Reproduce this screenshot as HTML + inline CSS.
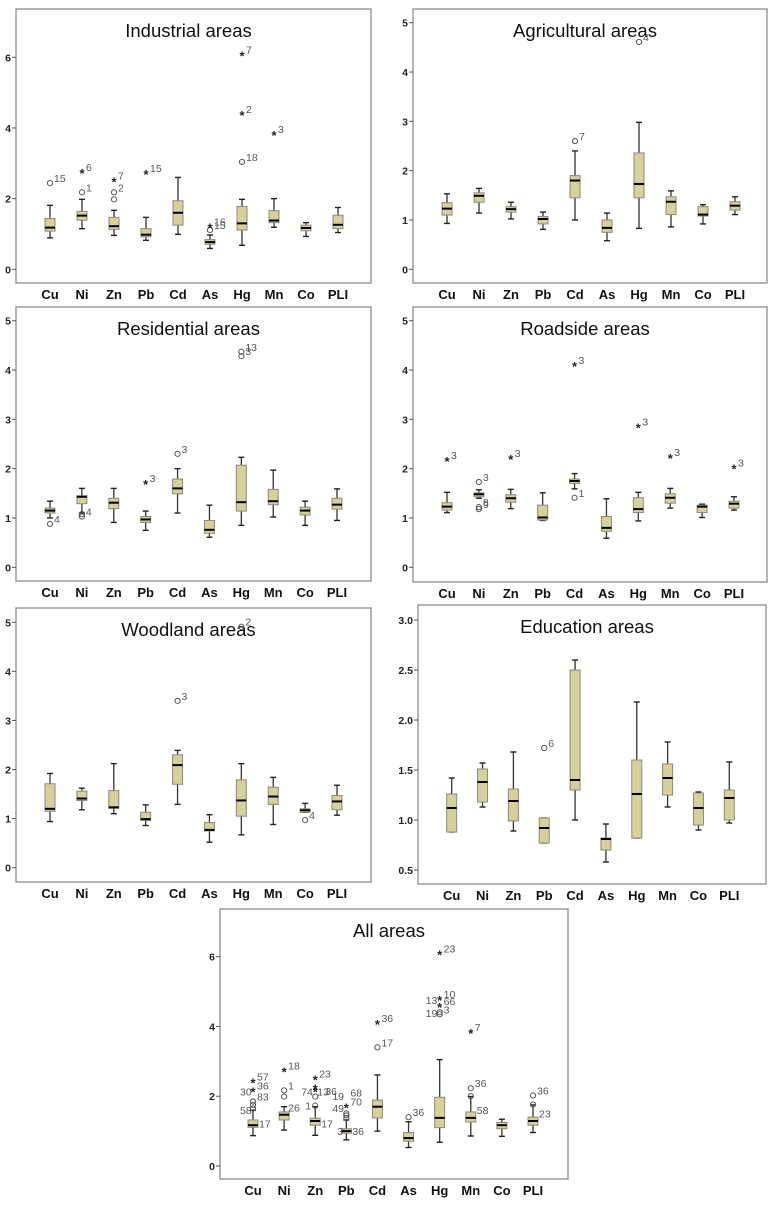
<!DOCTYPE html>
<html><head><meta charset="utf-8">
<style>
html,body{margin:0;padding:0;background:#fff;}
svg{display:block;font-family:"Liberation Sans",Arial,sans-serif;}
</style></head>
<body>
<svg id="fig" width="776" height="1205" viewBox="0 0 776 1205" xmlns="http://www.w3.org/2000/svg"></svg>
<script>
const categories = ["Cu","Ni","Zn","Pb","Cd","As","Hg","Mn","Co","PLI"];

// [lowerWhisker, q1, median, q3, upperWhisker]
const industrialStats = [[0.89,1.08,1.18,1.44,1.81],[1.15,1.39,1.52,1.64,1.98],[0.96,1.13,1.22,1.47,1.67],[0.82,0.92,0.98,1.15,1.47],[0.99,1.25,1.6,1.94,2.6],[0.59,0.71,0.77,0.84,0.97],[0.68,1.11,1.3,1.78,1.98],[1.19,1.32,1.38,1.66,2.0],[0.93,1.09,1.17,1.25,1.32],[1.04,1.15,1.26,1.53,1.75]];
// [categoryIndex, value, marker, label]
const industrialOutliers = [[0,2.44,"o","15"],[1,2.18,"o","1"],[1,2.75,"*","6"],[2,1.98,"o",""],[2,2.18,"o","2"],[2,2.52,"*","7"],[3,2.72,"*","15"],[5,1.11,"o","15"],[5,1.21,"*","16"],[6,3.04,"o","18"],[6,4.39,"*","2"],[6,6.08,"*","7"],[7,3.83,"*","3"]];

const agriculturalStats = [[0.93,1.1,1.23,1.35,1.53],[1.14,1.36,1.49,1.55,1.64],[1.02,1.16,1.22,1.27,1.36],[0.81,0.92,1.02,1.07,1.16],[1.0,1.45,1.8,1.9,2.4],[0.58,0.75,0.84,1.0,1.14],[0.83,1.45,1.73,2.36,2.98],[0.86,1.11,1.37,1.47,1.59],[0.92,1.08,1.11,1.27,1.31],[1.11,1.2,1.29,1.37,1.47]];
const agriculturalOutliers = [[4,2.6,"o","7"],[6,4.61,"o","4"]];

const residentialStats = [[1.0,1.1,1.15,1.2,1.34],[1.1,1.29,1.43,1.45,1.6],[0.91,1.19,1.31,1.4,1.6],[0.75,0.91,0.97,1.03,1.14],[1.1,1.49,1.6,1.79,2.0],[0.61,0.69,0.76,0.95,1.26],[0.85,1.14,1.32,2.07,2.23],[1.02,1.27,1.34,1.58,1.97],[0.85,1.06,1.15,1.22,1.34],[0.95,1.18,1.27,1.4,1.59]];
const residentialOutliers = [[0,0.88,"o","4"],[1,1.03,"o","4"],[1,1.08,"o",""],[3,1.71,"*","3"],[4,2.3,"o","3"],[6,4.28,"o","3"],[6,4.37,"o","13"]];

const roadsideStats = [[1.11,1.16,1.23,1.31,1.52],[1.4,1.43,1.48,1.51,1.57],[1.19,1.32,1.4,1.47,1.58],[0.95,0.96,1.01,1.26,1.51],[1.59,1.7,1.75,1.79,1.9],[0.59,0.73,0.8,1.03,1.39],[0.94,1.11,1.18,1.41,1.52],[1.2,1.3,1.41,1.49,1.6],[1.01,1.11,1.23,1.26,1.28],[1.16,1.2,1.29,1.34,1.43]];
const roadsideOutliers = [[0,2.18,"*","3"],[1,1.73,"o","3"],[1,1.22,"o","8"],[1,1.18,"o","9"],[2,2.22,"*","3"],[4,1.41,"o","1"],[4,4.1,"*","3"],[6,2.85,"*","3"],[7,2.24,"*","3"],[9,2.02,"*","3"]];

const woodlandStats = [[0.94,1.15,1.2,1.71,1.92],[1.18,1.37,1.41,1.56,1.62],[1.1,1.21,1.23,1.57,2.12],[0.86,0.96,0.99,1.13,1.28],[1.29,1.7,2.09,2.3,2.39],[0.52,0.75,0.77,0.92,1.08],[0.67,1.05,1.37,1.79,2.12],[0.88,1.29,1.45,1.64,1.84],[1.13,1.13,1.17,1.2,1.31],[1.07,1.18,1.35,1.47,1.68]];
const woodlandOutliers = [[4,3.4,"o","3"],[6,4.91,"o","2"],[8,0.97,"o","4"]];

const educationStats = [[0.88,0.88,1.12,1.26,1.42],[1.13,1.18,1.38,1.51,1.57],[0.89,0.99,1.19,1.31,1.68],[0.77,0.77,0.92,1.02,1.02],[1.0,1.3,1.4,2.5,2.6],[0.58,0.7,0.81,0.82,0.96],[0.82,0.82,1.26,1.6,2.18],[1.13,1.25,1.42,1.56,1.78],[0.9,0.95,1.12,1.27,1.28],[0.97,1.0,1.22,1.3,1.58]];
const educationOutliers = [[3,1.72,"o","6"]];

const allStats = [[0.87,1.11,1.17,1.32,1.6],[1.03,1.32,1.47,1.55,1.7],[0.88,1.17,1.29,1.37,1.7],[0.75,0.94,1.0,1.07,1.32],[1.0,1.38,1.7,1.89,2.61],[0.53,0.71,0.8,0.96,1.27],[0.68,1.1,1.38,1.97,3.05],[0.86,1.26,1.38,1.55,1.99],[0.85,1.07,1.17,1.25,1.34],[0.96,1.17,1.29,1.4,1.75]];
const allOutliers = [[0,1.65,"o",""],[0,1.75,"o",""],[0,1.85,"o","83"],[0,2.17,"*","36"],[0,2.42,"*","57"],[1,1.99,"o",""],[1,2.17,"o","1"],[1,2.74,"*","18"],[2,1.73,"o",""],[2,1.99,"o",""],[2,2.17,"*",""],[2,2.25,"*",""],[2,2.51,"*","23"],[3,1.37,"o",""],[3,1.45,"o",""],[3,1.51,"o",""],[3,1.7,"*","70"],[4,3.4,"o","17"],[4,4.1,"*","36"],[5,1.4,"o","36"],[6,4.35,"o","3"],[6,4.41,"o",""],[6,4.58,"*","66"],[6,4.79,"*","10"],[6,6.09,"*","23"],[7,2.0,"o",""],[7,2.23,"o","36"],[7,3.84,"*","7"],[9,1.76,"o",""],[9,2.02,"o","36"]];
// extra free labels for dense clusters: [categoryIndex, value, text, dx]
const allExtraLabels = [[0,2.13,"30",-13],[0,1.6,"58",-13],[0,1.22,"17",6],[1,1.68,"26",4],[2,2.13,"74",-14],[2,2.13,"13",2],[2,2.15,"36",10],[2,1.73,"1",-10],[2,1.22,"17",6],[3,2.0,"19",-14],[3,2.1,"68",4],[3,1.66,"49",-14],[3,1.0,"3",-9],[3,1.0,"36",6],[6,4.76,"13",-14],[6,4.38,"19",-14],[7,1.6,"58",6],[9,1.5,"23",6]];

const industrialTicks = [0,2,4,6];
const fiveTicks = [0,1,2,3,4,5];
const educationTicks = ["0.5","1.0","1.5","2.0","2.5","3.0"];
const allTicks = [0,2,4,6];

const panels = [
 {name:"industrial",title:"Industrial areas",L:16,R:371,T:9,B:283,v0:0,p0:269.3,v1:6,p1:57.3,cx0:50,cx1:338,ticks:industrialTicks,stats:industrialStats,out:industrialOutliers},
 {name:"agricultural",title:"Agricultural areas",L:413,R:767,T:9,B:283,v0:0,p0:269.3,v1:5,p1:22.7,cx0:447,cx1:735,ticks:fiveTicks,stats:agriculturalStats,out:agriculturalOutliers},
 {name:"residential",title:"Residential areas",L:16,R:371,T:307,B:581,v0:0,p0:567.3,v1:5,p1:320.7,cx0:50,cx1:337,ticks:fiveTicks,stats:residentialStats,out:residentialOutliers},
 {name:"roadside",title:"Roadside areas",L:413,R:767,T:307,B:582,v0:0,p0:567.3,v1:5,p1:320.7,cx0:447,cx1:734,ticks:fiveTicks,stats:roadsideStats,out:roadsideOutliers},
 {name:"woodland",title:"Woodland areas",L:16,R:371,T:608,B:882,v0:0,p0:867.7,v1:5,p1:622.3,cx0:50,cx1:337,ticks:fiveTicks,stats:woodlandStats,out:woodlandOutliers},
 {name:"education",title:"Education areas",L:418,R:766,T:605,B:884,v0:0.5,p0:870,v1:3.0,p1:620,cx0:451.7,cx1:729.3,ticks:educationTicks,stats:educationStats,out:educationOutliers},
 {name:"all",title:"All areas",L:220,R:568,T:909,B:1179,v0:0,p0:1166,v1:6,p1:956.7,cx0:253,cx1:533,ticks:allTicks,stats:allStats,out:allOutliers,extra:allExtraLabels}
];

const NS="http://www.w3.org/2000/svg";
const svg=document.getElementById("fig");
function mk(tag,attrs,parent){const e=document.createElementNS(NS,tag);for(const k in attrs)e.setAttribute(k,attrs[k]);parent.appendChild(e);return e;}

panels.forEach(p=>{
  const yS=v=>p.p0+(parseFloat(v)-p.v0)*(p.p1-p.p0)/(p.v1-p.v0);
  const xS=i=>p.cx0+i*(p.cx1-p.cx0)/(categories.length-1);
  const g=mk("g",{},svg);
  
  
  const fr=mk("rect",{x:p.L,y:p.T,width:p.R-p.L,height:p.B-p.T,fill:"#fff",stroke:"#8c8c8c","stroke-width":1.3},g);
  
  
  const t=mk("text",{x:(p.L+p.R)/2-5,y:p.T+28,"text-anchor":"middle","font-size":"18.5",fill:"#111"},g);
  t.textContent=p.title;
  
  
  p.ticks.forEach(tv=>{
    const y=yS(tv);
    mk("line",{x1:p.L-4,x2:p.L,y1:y,y2:y,stroke:"#555","stroke-width":1},g);
    const tl=mk("text",{x:p.L-5,y:y+4,"text-anchor":"end","font-size":"10.5","font-weight":"bold",fill:"#222"},g);
    tl.textContent=String(tv);
    
    
  });
  categories.forEach((c,i)=>{
    const cl=mk("text",{x:xS(i),y:p.B+16,"text-anchor":"middle","font-size":"13","font-weight":"bold",fill:"#111"},g);
    cl.textContent=c;
    
    
  });
  p.stats.forEach((s,i)=>{
    const x=xS(i);
    const bg=mk("g",{},g);
    
    
    mk("line",{x1:x,x2:x,y1:yS(s[0]),y2:yS(s[4]),stroke:"#333","stroke-width":1.3},bg);
    mk("line",{x1:x-3,x2:x+3,y1:yS(s[0]),y2:yS(s[0]),stroke:"#222","stroke-width":1.4},bg);
    mk("line",{x1:x-3,x2:x+3,y1:yS(s[4]),y2:yS(s[4]),stroke:"#222","stroke-width":1.4},bg);
    mk("rect",{x:x-5,y:yS(s[3]),width:10,height:Math.max(1,yS(s[1])-yS(s[3])),fill:"#d8d09a",stroke:"#8a8a78","stroke-width":1},bg);
    mk("line",{x1:x-5,x2:x+5,y1:yS(s[2]),y2:yS(s[2]),stroke:"#000","stroke-width":2},bg);
  });
  p.out.forEach(o=>{
    const x=xS(o[0]),y=yS(o[1]);
    if(o[2]==="o"){
      const c=mk("circle",{cx:x,cy:y,r:2.6,fill:"none",stroke:"#555","stroke-width":1},g);
      
      
    } else {
      const s=mk("text",{x:x,y:y+6,"text-anchor":"middle","font-size":"13","font-weight":"bold",fill:"#222"},g);
      s.textContent="*";
      
      
    }
    if(o[3]){
      const l=mk("text",{x:x+4,y:y-1,"font-size":"10.5",fill:"#555"},g);
      l.textContent=o[3];
      
      
    }
  });
  (p.extra||[]).forEach(e=>{
    const l=mk("text",{x:xS(e[0])+e[3],y:yS(e[1])+4,"font-size":"10.5",fill:"#555"},g);
    l.textContent=e[2];
    
    
  });
});
</script>
</body></html>
